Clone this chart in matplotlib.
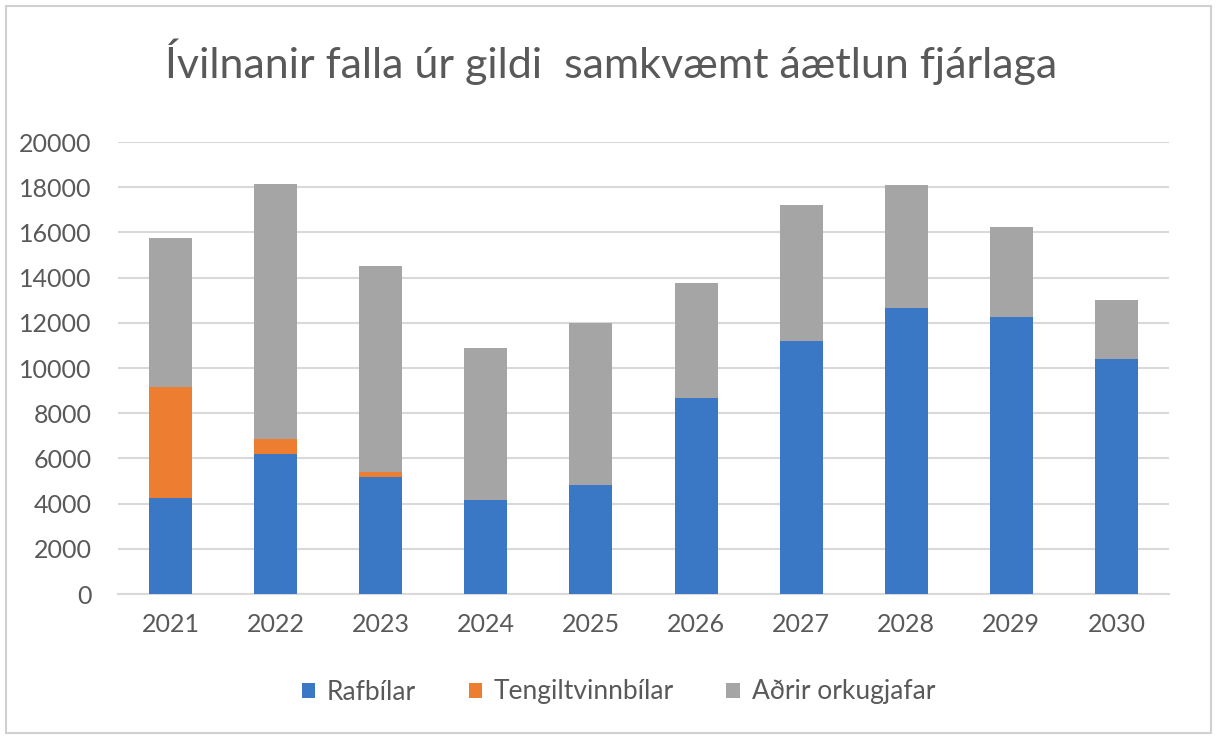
import matplotlib
matplotlib.use("Agg")
import matplotlib.pyplot as plt
from matplotlib.patches import Rectangle
import numpy as np

years = ["2021", "2022", "2023", "2024", "2025", "2026", "2027", "2028", "2029", "2030"]
rafbilar = [4250, 6180, 5170, 4170, 4820, 8690, 11190, 12650, 12240, 10410]
tengiltvinnbilar = [4900, 680, 230, 0, 0, 0, 0, 0, 0, 0]
adrir_orkugjafar = [6620, 11280, 9130, 6720, 7150, 5060, 6020, 5440, 4020, 2580]
series_names = ["Rafbílar", "Tengiltvinnbílar", "Aðrir orkugjafar"]
title = "Ívilnanir falla úr gildi  samkvæmt áætlun fjárlaga"
yticks = [0, 2000, 4000, 6000, 8000, 10000, 12000, 14000, 16000, 18000, 20000]

plt.rcParams['font.family'] = ['Lato', 'DejaVu Sans']
txt = '#595959'
colors = ['#3A78C6', '#ED7D31', '#A5A5A5']

fig = plt.figure(figsize=(12.17, 7.37), dpi=100)
ax = fig.add_axes([118/1217, 1-594/737, (1169-118)/1217, (594-142)/737])

x = np.arange(len(years))
w = 0.41
r = np.array(rafbilar)
t = np.array(tengiltvinnbilar)
a = np.array(adrir_orkugjafar)
ax.bar(x, r, w, color=colors[0], label=series_names[0], zorder=3)
ax.bar(x, t, w, bottom=r, color=colors[1], label=series_names[1], zorder=3)
ax.bar(x, a, w, bottom=r + t, color=colors[2], label=series_names[2], zorder=3)

ax.set_xlim(-0.5, len(years) - 0.5)
ax.set_ylim(0, 20000)
ax.set_yticks(yticks)
ax.set_yticklabels([str(v) for v in yticks])
ax.set_xticks(x)
ax.set_xticklabels(years)
ax.tick_params(axis='both', length=0, labelsize=18, colors=txt)
ax.tick_params(axis='y', pad=19)
ax.tick_params(axis='x', pad=14)
ax.grid(axis='y', color='#D9D9D9', linewidth=1.5, zorder=0)
for s in ['top', 'right', 'left']:
    ax.spines[s].set_visible(False)
ax.spines['bottom'].set_color('#D9D9D9')
ax.spines['bottom'].set_linewidth(1.5)

fig.text(0.502, 1 - 62/737, title, ha='center', va='center', fontsize=31, color=txt)

leg = fig.legend(loc='center', bbox_to_anchor=(0.508, 1 - 692/737), ncol=3, frameon=False,
                 fontsize=19, handlelength=0.5, handleheight=0.5, handletextpad=0.45,
                 columnspacing=2.0, labelcolor=txt)

fig.patches.append(Rectangle((6/1217, 4/737), 1205/1217, 727/737, transform=fig.transFigure,
                             fill=False, edgecolor='#D0D0D0', linewidth=1.5))

fig.savefig('out.png', dpi=100)
